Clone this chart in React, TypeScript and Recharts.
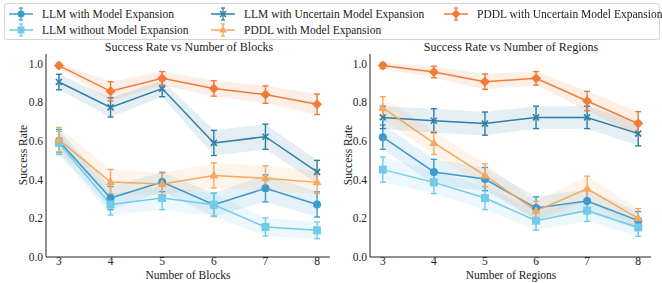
import React from 'react';
import {
  ComposedChart,
  Line,
  Area,
  XAxis,
  YAxis,
  ErrorBar,
} from 'recharts';

const xValues = [3, 4, 5, 6, 7, 8];
const yTicks = [0, 0.2, 0.4, 0.6, 0.8, 1.0];

// Blocks panel
const blkLlmExp = [0.6, 0.305, 0.388, 0.27, 0.355, 0.272];
const blkLlmExpErr = [0.06, 0.06, 0.05, 0.06, 0.07, 0.065];
const blkLlmNoExp = [0.59, 0.272, 0.305, 0.27, 0.155, 0.138];
const blkLlmNoExpErr = [0.06, 0.055, 0.06, 0.06, 0.047, 0.043];
const blkLlmUnc = [0.905, 0.774, 0.871, 0.59, 0.622, 0.44];
const blkLlmUncErr = [0.04, 0.05, 0.042, 0.065, 0.065, 0.06];
const blkPddlExp = [0.607, 0.388, 0.378, 0.422, 0.407, 0.386];
const blkPddlExpErr = [0.063, 0.065, 0.056, 0.065, 0.065, 0.058];
const blkPddlUnc = [0.99, 0.857, 0.924, 0.872, 0.84, 0.79];
const blkPddlUncErr = [0.012, 0.05, 0.035, 0.04, 0.045, 0.053];

// Regions panel
const regLlmExp = [0.62, 0.44, 0.403, 0.253, 0.29, 0.188];
const regLlmExpErr = [0.063, 0.065, 0.06, 0.058, 0.06, 0.047];
const regLlmNoExp = [0.452, 0.386, 0.305, 0.188, 0.24, 0.153];
const regLlmNoExpErr = [0.065, 0.058, 0.06, 0.049, 0.056, 0.046];
const regLlmUnc = [0.722, 0.705, 0.69, 0.722, 0.722, 0.638];
const regLlmUncErr = [0.058, 0.062, 0.06, 0.058, 0.058, 0.063];
const regPddlExp = [0.771, 0.59, 0.422, 0.238, 0.353, 0.2];
const regPddlExpErr = [0.058, 0.06, 0.06, 0.05, 0.065, 0.05];
const regPddlUnc = [0.99, 0.957, 0.907, 0.924, 0.807, 0.69];
const regPddlUncErr = [0.015, 0.03, 0.04, 0.035, 0.05, 0.062];

type Shape = 'circle' | 'square' | 'x' | 'triangle' | 'diamond';

const series: { key: string; name: string; color: string; shape: Shape }[] = [
  { key: 'llmExp', name: 'LLM with Model Expansion', color: '#3a9bd0', shape: 'circle' },
  { key: 'llmNoExp', name: 'LLM without Model Expansion', color: '#72cbe6', shape: 'square' },
  { key: 'llmUnc', name: 'LLM with Uncertain Model Expansion', color: '#2e7ea6', shape: 'x' },
  { key: 'pddlExp', name: 'PDDL with Model Expansion', color: '#f5a95e', shape: 'triangle' },
  { key: 'pddlUnc', name: 'PDDL with Uncertain Model Expansion', color: '#f07c3a', shape: 'diamond' },
];

const legendOrder = ['llmExp', 'llmNoExp', 'llmUnc', 'pddlExp', 'pddlUnc'];

const buildRows = (vals: Record<string, number[]>, errs: Record<string, number[]>) =>
  xValues.map((x, i) => {
    const row: Record<string, any> = { x };
    Object.keys(vals).forEach((k) => {
      row[k] = vals[k][i];
      row[k + 'Err'] = errs[k][i];
      row[k + 'Band'] = [vals[k][i] - errs[k][i], vals[k][i] + errs[k][i]];
    });
    return row;
  });

const blocksData = buildRows(
  { llmExp: blkLlmExp, llmNoExp: blkLlmNoExp, llmUnc: blkLlmUnc, pddlExp: blkPddlExp, pddlUnc: blkPddlUnc },
  { llmExp: blkLlmExpErr, llmNoExp: blkLlmNoExpErr, llmUnc: blkLlmUncErr, pddlExp: blkPddlExpErr, pddlUnc: blkPddlUncErr },
);
const regionsData = buildRows(
  { llmExp: regLlmExp, llmNoExp: regLlmNoExp, llmUnc: regLlmUnc, pddlExp: regPddlExp, pddlUnc: regPddlUnc },
  { llmExp: regLlmExpErr, llmNoExp: regLlmNoExpErr, llmUnc: regLlmUncErr, pddlExp: regPddlExpErr, pddlUnc: regPddlUncErr },
);

const FONT = "'Liberation Serif', 'Times New Roman', Tinos, 'DejaVu Serif', serif";

const Marker = ({ cx, cy, shape, color, size = 4 }: { cx: number; cy: number; shape: Shape; color: string; size?: number }) => {
  if (cx == null || cy == null) return null;
  switch (shape) {
    case 'circle':
      return <circle cx={cx} cy={cy} r={size} fill={color} />;
    case 'square':
      return <rect x={cx - size} y={cy - size} width={size * 2} height={size * 2} fill={color} />;
    case 'triangle':
      return <polygon points={`${cx},${cy - size - 1} ${cx - size - 0.5},${cy + size - 1} ${cx + size + 0.5},${cy + size - 1}`} fill={color} />;
    case 'diamond':
      return <polygon points={`${cx},${cy - size - 1} ${cx + size + 1},${cy} ${cx},${cy + size + 1} ${cx - size - 1},${cy}`} fill={color} />;
    case 'x':
      return (
        <g stroke={color} strokeWidth={1.6}>
          <line x1={cx - 3} y1={cy - 3} x2={cx + 3} y2={cy + 3} />
          <line x1={cx - 3} y1={cy + 3} x2={cx + 3} y2={cy - 3} />
        </g>
      );
  }
  return null;
};

const tickStyle = { fill: '#222', fontSize: 11.5, fontFamily: FONT };

const Panel = ({ data, yAxisWidth, rightMargin }: { data: any[]; yAxisWidth: number; rightMargin: number }) => (
  <ComposedChart width={331} height={283} data={data} margin={{ top: 54, right: rightMargin, bottom: 0, left: 0 }}>
    <XAxis
      dataKey="x"
      type="number"
      domain={[2.75, 8.25]}
      ticks={xValues}
      allowDataOverflow
      height={26}
      tickLine={false}
      tickSize={0}
      stroke="#222"
      tick={tickStyle}
      tickMargin={0}
    />
    <YAxis
      type="number"
      domain={[0, 1.05]}
      ticks={yTicks}
      allowDataOverflow
      width={yAxisWidth}
      tickLine={false}
      tickSize={0}
      stroke="#222"
      tickFormatter={(v: number) => v.toFixed(1)}
      tick={tickStyle}
      tickMargin={3}
    />
    {series.map((s) => (
      <Area
        key={s.key + 'Band'}
        type="linear"
        dataKey={s.key + 'Band'}
        stroke="none"
        fill={s.color}
        fillOpacity={0.13}
        isAnimationActive={false}
        activeDot={false}
      />
    ))}
    {series.map((s) => (
      <Line
        key={s.key}
        type="linear"
        dataKey={s.key}
        stroke={s.color}
        strokeWidth={1.5}
        isAnimationActive={false}
        activeDot={false}
        dot={(p: any) => <Marker key={`${s.key}-${p.index}`} cx={p.cx} cy={p.cy} shape={s.shape} color={s.color} />}
      >
        <ErrorBar dataKey={s.key + 'Err'} direction="y" width={3} stroke={s.color} strokeWidth={1.4} />
      </Line>
    ))}
  </ComposedChart>
);

const LegendItem = ({ name, color, shape }: { name: string; color: string; shape: Shape }) => (
  <div style={{ display: 'flex', alignItems: 'center', height: 16 }}>
    <svg width={26} height={16} style={{ marginRight: 8 }}>
      <line x1={1} y1={8} x2={25} y2={8} stroke={color} strokeWidth={1.5} />
      <line x1={13} y1={2} x2={13} y2={14} stroke={color} strokeWidth={1.3} />
      <line x1={11} y1={2} x2={15} y2={2} stroke={color} strokeWidth={1.3} />
      <line x1={11} y1={14} x2={15} y2={14} stroke={color} strokeWidth={1.3} />
      <Marker cx={13} cy={8} shape={shape} color={color} size={3.5} />
    </svg>
    <span style={{ fontSize: 11.5, fontFamily: FONT, color: '#222', whiteSpace: 'nowrap' }}>{name}</span>
  </div>
);

const textStyle: React.CSSProperties = {
  position: 'absolute',
  fontSize: 11.5,
  fontFamily: FONT,
  lineHeight: '14px',
  color: '#222',
  transform: 'translateX(-50%)',
  whiteSpace: 'nowrap',
};

const yLabelStyle: React.CSSProperties = {
  position: 'absolute',
  fontSize: 11.5,
  fontFamily: FONT,
  lineHeight: '14px',
  color: '#222',
  whiteSpace: 'nowrap',
  transform: 'translate(-50%, -50%) rotate(-90deg)',
};

export default function App() {
  const byKey = Object.fromEntries(series.map((s) => [s.key, s]));
  const cols = [[legendOrder[0], legendOrder[1]], [legendOrder[2], legendOrder[3]], [legendOrder[4]]];
  const colLeft = [7, 209, 442];
  return (
    <div style={{ position: 'fixed', left: 0, top: 0, width: 662, height: 283, background: '#fff', fontFamily: FONT }}>
      <div style={{ position: 'absolute', left: 0, top: 0 }}>
        <Panel data={blocksData} yAxisWidth={46} rightMargin={1} />
      </div>
      <div style={{ position: 'absolute', left: 331, top: 0 }}>
        <Panel data={regionsData} yAxisWidth={39} rightMargin={11} />
      </div>
      <div style={{ ...textStyle, fontSize: 12, left: 189, top: 40 }}>Success Rate vs Number of Blocks</div>
      <div style={{ ...textStyle, fontSize: 12, left: 511, top: 40 }}>Success Rate vs Number of Regions</div>
      <div style={{ ...textStyle, left: 188, top: 268 }}>Number of Blocks</div>
      <div style={{ ...textStyle, left: 511, top: 268 }}>Number of Regions</div>
      <div style={{ ...yLabelStyle, left: 23, top: 155 }}>Success Rate</div>
      <div style={{ ...yLabelStyle, left: 348, top: 155 }}>Success Rate</div>
      <div
        style={{
          position: 'absolute',
          left: 4,
          top: 3,
          width: 656,
          height: 37,
          border: '1px solid #d5d5d5',
          borderRadius: 3,
          background: 'rgba(255,255,255,0.85)',
          boxSizing: 'border-box',
        }}
      >
        {cols.map((col, ci) => (
          <div key={ci} style={{ position: 'absolute', left: colLeft[ci] - 4, top: 2 }}>
            {col.map((k) => (
              <LegendItem key={k} name={byKey[k].name} color={byKey[k].color} shape={byKey[k].shape} />
            ))}
          </div>
        ))}
      </div>
    </div>
  );
}
